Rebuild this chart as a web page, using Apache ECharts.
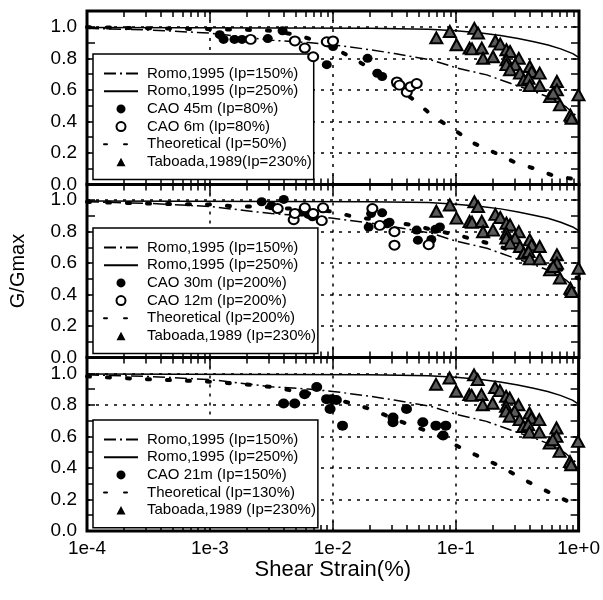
<!DOCTYPE html>
<html>
<head>
<meta charset="utf-8">
<script src="https://cdn.jsdelivr.net/npm/echarts@6/dist/echarts.min.js"></script>
<style>
  html, body { margin: 0; padding: 0; background: #fff; }
  #main { width: 603px; height: 600px; }
</style>
</head>
<body>
<div id="main"></div>
<script>
// shear strain (%) , G/Gmax
var romo150 = [[1e-4, 0.99], [3.16e-4, 0.98], [1e-3, 0.96], [3.16e-3, 0.915], [6.3e-3, 0.9], [1e-2, 0.885],
  [2e-2, 0.855], [3.16e-2, 0.83], [6.3e-2, 0.79], [0.1, 0.74], [0.178, 0.695], [0.28, 0.64],
  [0.43, 0.59], [0.63, 0.54], [0.79, 0.49], [1.0, 0.42]];
var romo250 = [[1e-4, 0.995], [2e-2, 0.99], [6e-2, 0.985], [0.1, 0.975], [0.16, 0.96], [0.23, 0.945],
  [0.32, 0.925], [0.43, 0.905], [0.56, 0.885], [0.71, 0.86], [0.89, 0.83], [1.0, 0.805]];

var theo50 = [[1e-4, 0.998], [3.16e-4, 0.99], [1e-3, 0.985], [2.19e-3, 0.98], [3.16e-3, 0.975], [5e-3, 0.95],
  [6.9e-3, 0.917], [1e-2, 0.87], [1.45e-2, 0.8], [2.09e-2, 0.73], [2.57e-2, 0.68], [4.47e-2, 0.54],
  [6.46e-2, 0.435], [9.5e-2, 0.35], [0.141, 0.26], [0.209, 0.2], [0.302, 0.14], [0.437, 0.1],
  [0.63, 0.054], [0.9, 0.035]];
var theo200 = [[1e-4, 0.99], [1.55e-4, 0.985], [4.9e-4, 0.975], [1e-3, 0.973], [1.51e-3, 0.962], [2.19e-3, 0.96],
  [5e-3, 0.945], [1e-2, 0.928], [1.45e-2, 0.896], [2.5e-2, 0.87], [4.7e-2, 0.84], [6.5e-2, 0.81],
  [9.5e-2, 0.785], [0.141, 0.75], [0.209, 0.714], [0.302, 0.672], [0.427, 0.63], [0.617, 0.587], [1.0, 0.5]];
var theo130 = [[1e-4, 0.98], [3.16e-4, 0.962], [1e-3, 0.947], [2.19e-3, 0.926], [3.16e-3, 0.913], [6.9e-3, 0.867],
  [1.45e-2, 0.808], [2.14e-2, 0.767], [3.16e-2, 0.71], [4.7e-2, 0.66], [6.8e-2, 0.615], [9.5e-2, 0.552],
  [0.143, 0.485], [0.209, 0.426], [0.302, 0.359], [0.437, 0.29], [0.646, 0.227], [0.944, 0.164]];

var cao45 = [[1.2e-3, 0.95], [1.29e-3, 0.92], [1.58e-3, 0.92], [1.82e-3, 0.92], [2.95e-3, 0.925], [3.89e-3, 0.975],
  [8.9e-3, 0.76], [1e-2, 0.875], [1.91e-2, 0.8], [2.29e-2, 0.705], [2.51e-2, 0.685]];
var cao6 = [[2.14e-3, 0.92], [4.9e-3, 0.91], [5.9e-3, 0.865], [6.9e-3, 0.81], [8.9e-3, 0.905], [1e-2, 0.91],
  [3.31e-2, 0.65], [3.47e-2, 0.63], [3.98e-2, 0.585], [4.27e-2, 0.62], [4.79e-2, 0.64]];
var cao30 = [[2.63e-3, 0.99], [3.16e-3, 0.965], [3.98e-3, 1.005], [5.6e-3, 0.925], [6.3e-3, 0.91], [6.8e-3, 0.895],
  [2.04e-2, 0.915], [2.51e-2, 0.92], [1.95e-2, 0.83], [2.75e-2, 0.85], [2.88e-2, 0.86], [4.79e-2, 0.81],
  [4.9e-2, 0.746], [6.3e-2, 0.75], [7.4e-2, 0.83], [6.8e-2, 0.815]];
var cao12 = [[3.55e-3, 0.947], [4.79e-3, 0.876], [4.9e-3, 0.916], [5.9e-3, 0.952], [6.9e-3, 0.916], [8.1e-3, 0.87],
  [8.3e-3, 0.952], [2.09e-2, 0.947], [2.4e-2, 0.84], [3.16e-2, 0.8], [3.16e-2, 0.714], [6e-2, 0.717]];
var cao21 = [[7.4e-3, 0.913], [5.9e-3, 0.867], [3.98e-3, 0.808], [4.9e-3, 0.808], [8.9e-3, 0.836], [9.8e-3, 0.836],
  [1.07e-2, 0.83], [9.5e-3, 0.773], [1.2e-2, 0.668], [3.09e-2, 0.72], [3.09e-2, 0.689], [3.98e-2, 0.773],
  [5.4e-2, 0.689], [6.9e-2, 0.668], [8.3e-2, 0.668], [7.9e-2, 0.605]];
var taboada = [[0.0692, 0.93], [0.0891, 0.97], [0.101, 0.886], [0.141, 0.99], [0.151, 0.96], [0.129, 0.865],
  [0.135, 0.86], [0.162, 0.865], [0.166, 0.8], [0.2, 0.81], [0.209, 0.91], [0.229, 0.89], [0.257, 0.854],
  [0.275, 0.843], [0.324, 0.8], [0.257, 0.79], [0.257, 0.76], [0.302, 0.76], [0.275, 0.727], [0.331, 0.706],
  [0.398, 0.748], [0.412, 0.716], [0.479, 0.706], [0.355, 0.663], [0.389, 0.674], [0.398, 0.627],
  [0.479, 0.627], [0.661, 0.653], [0.661, 0.6], [0.582, 0.557], [0.617, 0.579], [0.7, 0.505],
  [0.851, 0.44], [0.871, 0.42], [0.99, 0.568]];

var legendNames = [
  ['Romo,1995 (Ip=150%)', 'Romo,1995 (Ip=250%)', 'CAO 45m (Ip=80%)', 'CAO 6m (Ip=80%)', 'Theoretical (Ip=50%)', 'Taboada,1989(Ip=230%)'],
  ['Romo,1995 (Ip=150%)', 'Romo,1995 (Ip=250%)', 'CAO 30m (Ip=200%)', 'CAO 12m (Ip=200%)', 'Theoretical (Ip=200%)', 'Taboada,1989 (Ip=230%)'],
  ['Romo,1995 (Ip=150%)', 'Romo,1995 (Ip=250%)', 'CAO 21m (Ip=150%)', 'Theoretical (Ip=130%)', 'Taboada,1989 (Ip=230%)']
];

var FONT = '"Liberation Sans", Arial, sans-serif';

// minor ticks of the log axis: 2..9 in every decade
var minorTicks = [];
for (var d = -4; d < 0; d++) {
  for (var k = 2; k <= 9; k++) minorTicks.push(Number((k * Math.pow(10, d)).toPrecision(3)));
}

var grids = [
  {left: 87, top: 11, width: 492, height: 173.5},
  {left: 87, top: 184.5, width: 492, height: 173},
  {left: 87, top: 357.5, width: 492, height: 173.5}
];
grids.forEach(function (g) {
  g.show = true;
  g.borderColor = '#000';
  g.borderWidth = 3;
  g.backgroundColor = 'transparent';
});

var xAxis = [], yAxis = [];

function dotted() {
  return {color: '#000', width: 1.5, type: [3, 6]};
}
function tick(len, custom) {
  var t = {inside: true, length: len, lineStyle: {color: '#000', width: 1.5}};
  if (custom) t.customValues = custom;
  return t;
}
function xBase(g, pos) {
  return {
    gridIndex: g, type: 'log', logBase: 10, min: 1e-4, max: 1, splitNumber: 4, position: pos,
    axisLine: {show: false, onZero: false}, axisLabel: {show: false}, splitLine: {show: false}
  };
}
function yBase(g, pos, interval) {
  return {
    gridIndex: g, type: 'value', min: 0, max: 1.1, interval: interval, position: pos,
    axisLine: {show: false, onZero: false}, axisLabel: {show: false}, splitLine: {show: false}
  };
}

for (var g = 0; g < 3; g++) {
  var xMain = xBase(g, 'bottom');
  xMain.axisTick = tick(10);
  xMain.splitLine = {show: true, lineStyle: dotted()};
  if (g === 2) {
    xMain.axisLabel = {
      show: true, margin: 8, color: '#000', fontSize: 19, fontFamily: FONT,
      formatter: function (v) { return v.toExponential(0); }
    };
    xMain.name = 'Shear Strain(%)';
    xMain.nameLocation = 'middle';
    xMain.nameGap = 27;
    xMain.nameTextStyle = {color: '#000', fontSize: 22, fontFamily: FONT};
  }
  var xTop = xBase(g, 'top');
  xTop.axisTick = tick(10);
  var xMinorB = xBase(g, 'bottom');
  xMinorB.axisTick = tick(6, minorTicks);
  var xMinorT = xBase(g, 'top');
  xMinorT.axisTick = tick(6, minorTicks);
  xAxis.push(xMain, xTop, xMinorB, xMinorT);

  var yMain = yBase(g, 'left', 0.2);
  yMain.axisTick = {show: false};
  yMain.splitLine = {show: true, lineStyle: dotted()};
  yMain.axisLabel = {
    show: true, margin: 10, color: '#000', fontSize: 19, fontFamily: FONT,
    formatter: function (v) { return v > 1.05 ? '' : v.toFixed(1); }
  };
  if (g === 1) {
    yMain.name = 'G/Gmax';
    yMain.nameLocation = 'middle';
    yMain.nameGap = 59;
    yMain.nameTextStyle = {color: '#000', fontSize: 20, fontFamily: FONT};
  }
  var yLeft = yBase(g, 'left', 0.1);
  yLeft.axisTick = tick(8);
  var yRight = yBase(g, 'right', 0.1);
  yRight.axisTick = tick(8);
  yAxis.push(yMain, yLeft, yRight);
}

function line(name, g, data, lineStyle) {
  return {
    name: name, type: 'line', xAxisIndex: g * 4, yAxisIndex: g * 3, data: data,
    symbol: 'none', lineStyle: lineStyle, itemStyle: {color: '#000'}, z: 3
  };
}
function dots(name, g, data, symbol, size, itemStyle) {
  itemStyle.opacity = 1;
  return {
    name: name, type: 'scatter', xAxisIndex: g * 4, yAxisIndex: g * 3, data: data,
    symbol: symbol, symbolSize: size, itemStyle: itemStyle, z: 4
  };
}

var dashDot = {color: '#000', width: 1.5, type: [12, 4, 2, 4]};
var solid = {color: '#000', width: 1.5, type: 'solid'};
var theoStyle = {color: '#000', width: 4, type: [3, 17], cap: 'round'};

var theo = [theo50, theo200, theo130];
var series = [];
for (var p = 0; p < 3; p++) {
  var names = legendNames[p];
  series.push(line(names[0], p, romo150, dashDot));
  series.push(line(names[1], p, romo250, solid));
  series.push(line(p === 2 ? names[3] : names[4], p, theo[p], theoStyle));
}
function filled() { return {color: '#000'}; }
function hollow() { return {color: '#fff', borderColor: '#000', borderWidth: 2}; }
function tri() { return {color: '#5a5a5a', borderColor: '#000', borderWidth: 2}; }
series.push(dots(legendNames[0][2], 0, cao45, 'circle', [10, 9], filled()));
series.push(dots(legendNames[0][3], 0, cao6, 'circle', [10, 9], hollow()));
series.push(dots(legendNames[0][5], 0, taboada, 'triangle', [12, 11], tri()));
series.push(dots(legendNames[1][2], 1, cao30, 'circle', [10, 9], filled()));
series.push(dots(legendNames[1][3], 1, cao12, 'circle', [10, 9], hollow()));
series.push(dots(legendNames[1][5], 1, taboada, 'triangle', [12, 11], tri()));
series.push(dots(legendNames[2][2], 2, cao21, 'circle', [11, 10], filled()));
series.push(dots(legendNames[2][4], 2, taboada, 'triangle', [12, 11], tri()));

// legend icon for Taboada: small triangle in the middle of the 34x9 icon box
var smallTriangle = 'path://M0,4.5L0.01,4.5Z M34,4.5L33.99,4.5Z M12.5,9L17,0.5L21.5,9Z';

// legend entries: hide the marker drawn on line icons
function legendItem(name) {
  if (name.indexOf('Romo') === 0 || name.indexOf('Theoretical') === 0) {
    return {name: name, itemStyle: {color: 'rgba(0,0,0,0)', borderColor: 'rgba(0,0,0,0)', opacity: 0}};
  }
  if (name.indexOf('Taboada') === 0) {
    return {name: name, icon: smallTriangle, itemStyle: {color: '#000', borderWidth: 0}};
  }
  return name;
}

var legendTops = [54, 228, 420];
var legend = legendNames.map(function (names, i) {
  return {
    data: names.map(legendItem), orient: 'vertical', left: 93, top: legendTops[i],
    backgroundColor: '#fff', borderColor: '#000', borderWidth: 1.5,
    padding: [12, 2, 10, 10], itemWidth: 34, itemHeight: 9, itemGap: 2.7,
    selectedMode: false,
    textStyle: {color: '#000', fontSize: 15, fontFamily: FONT, lineHeight: 15, padding: [0, 0, 0, 4]}
  };
});

var myChart = echarts.init(document.getElementById('main'));
myChart.setOption({
  animation: false,
  backgroundColor: '#fff',
  grid: grids,
  xAxis: xAxis,
  yAxis: yAxis,
  legend: legend,
  series: series
});
</script>
</body>
</html>
